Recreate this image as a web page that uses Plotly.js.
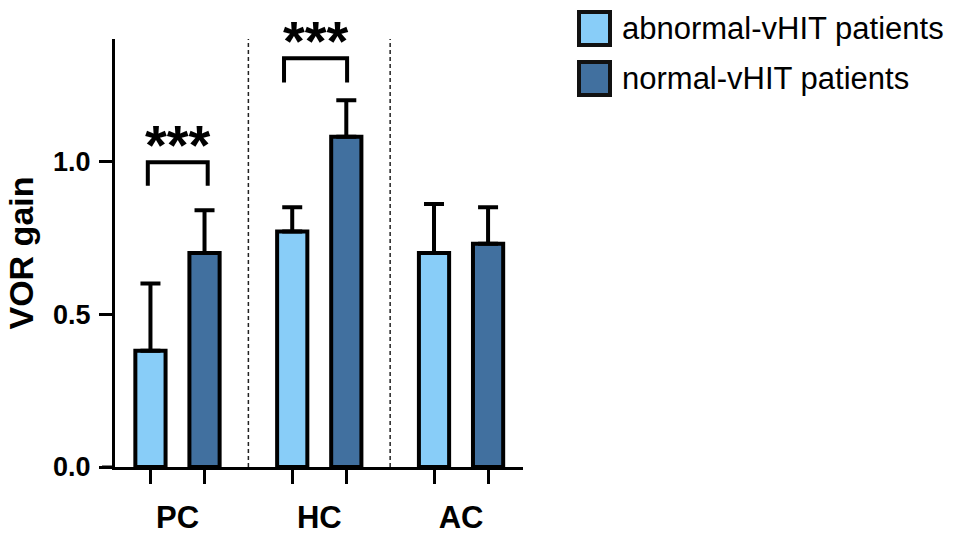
<!DOCTYPE html>
<html>
<head>
<meta charset="utf-8">
<script src="https://cdn.plot.ly/plotly-3.0.1.min.js"></script>
<style>
  html, body { margin: 0; padding: 0; background: #fff; }
  #chart { width: 957px; height: 537px; }
</style>
</head>
<body>
<div id="chart"></div>
<script>
// values
var categories = ['PC', 'HC', 'AC'];
var seriesNames = ['abnormal-vHIT patients', 'normal-vHIT patients'];
var abnormalGain = [0.38, 0.77, 0.70];
var abnormalErr = [0.22, 0.08, 0.16];
var normalGain = [0.70, 1.08, 0.73];
var normalErr = [0.14, 0.12, 0.12];
var yTicks = [0, 0.5, 1.0];
var sigLabels = ['***', '***', ''];

var FONT = 'Liberation Sans, Arial, sans-serif';
var lightBlue = '#88cdf8';
var darkBlue = '#41709f';

// group layout on a numeric axis
var groupStep = 2.675, barOffset = 0.51;
var centers = categories.map(function (c, i) { return 1.5 + i * groupStep; });
var xAbn = centers.map(function (c) { return c - barOffset; });
var xNorm = centers.map(function (c) { return c + barOffset; });
var zeros = categories.map(function () { return 0; });

function barTrace(name, x, y, err, color) {
  return {
    type: 'bar', name: name, x: x, y: y, width: 0.57,
    marker: { color: color, line: { color: '#000', width: 4 } },
    error_y: { type: 'data', symmetric: false, array: err, arrayminus: zeros,
               color: '#000', thickness: 4, width: 10 },
    showlegend: false, hoverinfo: 'skip'
  };
}

var traces = [
  barTrace(seriesNames[0], xAbn, abnormalGain, abnormalErr, lightBlue),
  barTrace(seriesNames[1], xNorm, normalGain, normalErr, darkBlue)
];

var shapes = [];
var annotations = [];

// x axis line continues left past the y axis
shapes.push({ type: 'line', xref: 'paper', yref: 'y', x0: -0.032, x1: 0, y0: 0, y1: 0,
              line: { color: '#000', width: 3 } });

// dashed separators between groups
for (var i = 0; i < centers.length - 1; i++) {
  var sx = (xNorm[i] + xAbn[i + 1]) / 2;
  shapes.push({ type: 'line', xref: 'x', yref: 'y', x0: sx, x1: sx, y0: 0, y1: 1.4,
                layer: 'below', line: { color: '#222', width: 1.5, dash: '4px,3px' } });
}

// significance brackets (star y in paper units so it is not hidden above the range)
var brackets = [
  { x0: 0.94, x1: 2.07, top: 0.997, leg: 0.92, starY: (467 - 144) / 428 },
  { x0: 3.51, x1: 4.70, top: 1.337, leg: 1.258, starY: (467 - 40) / 428 }
];
brackets.forEach(function (b, i) {
  shapes.push({ type: 'path', xref: 'x', yref: 'y',
    path: 'M' + b.x0 + ',' + b.leg + ' L' + b.x0 + ',' + b.top + ' L' + b.x1 + ',' + b.top + ' L' + b.x1 + ',' + b.leg,
    line: { color: '#000', width: 4 } });
  annotations.push({ x: (b.x0 + b.x1) / 2, y: b.starY, xref: 'x', yref: 'paper', text: sigLabels[i],
    yanchor: 'middle', showarrow: false,
    font: { family: FONT, size: 56, color: '#000', weight: 700 } });
});

// legend drawn by hand so the swatches can be large
var legendColors = [lightBlue, darkBlue];
seriesNames.forEach(function (n, i) {
  var top = 12 + i * 50, bot = top + 33;
  shapes.push({ type: 'rect', xref: 'paper', yref: 'paper',
    x0: (579 - 115) / 408, x1: (610 - 115) / 408,
    y0: (467 - bot) / 428, y1: (467 - top) / 428,
    fillcolor: legendColors[i], line: { color: '#111', width: 4 } });
  annotations.push({ xref: 'paper', yref: 'paper', x: (620 - 115) / 408, y: (467 - (top + 16)) / 428,
    xanchor: 'left', yanchor: 'middle', text: n, showarrow: false,
    font: { family: FONT, size: 31, color: '#000' } });
});

var layout = {
  width: 957, height: 537,
  margin: { l: 115, r: 434, t: 39, b: 70, pad: 0 },
  paper_bgcolor: '#fff', plot_bgcolor: '#fff',
  barmode: 'overlay',
  font: { family: FONT, color: '#000' },
  xaxis: {
    range: [0.321, 8.019], showgrid: false, zeroline: false, fixedrange: true,
    showline: true, linecolor: '#000', linewidth: 3,
    tickmode: 'array', tickvals: centers, ticktext: categories,
    ticks: 'outside', ticklen: 21, tickcolor: 'rgba(0,0,0,0)',
    tickfont: { family: FONT, size: 31, color: '#000', weight: 700 },
    minor: { tickmode: 'array', tickvals: xAbn.concat(xNorm), ticks: 'outside',
             ticklen: 14, tickwidth: 3, tickcolor: '#000', showgrid: false }
  },
  yaxis: {
    range: [0, 1.4], showgrid: false, zeroline: false, fixedrange: true,
    showline: true, linecolor: '#000', linewidth: 3,
    tickmode: 'array', tickvals: yTicks, tickformat: '.1f',
    ticks: 'outside', ticklen: 13, tickwidth: 3, tickcolor: '#000',
    ticklabelstandoff: 3,
    tickfont: { family: FONT, size: 27, color: '#000', weight: 700 },
    title: { text: 'VOR gain', standoff: 10,
             font: { family: FONT, size: 34, color: '#000', weight: 700 } }
  },
  shapes: shapes,
  annotations: annotations,
  showlegend: false
};

Plotly.newPlot('chart', traces, layout, { displayModeBar: false, staticPlot: true });
</script>
</body>
</html>
